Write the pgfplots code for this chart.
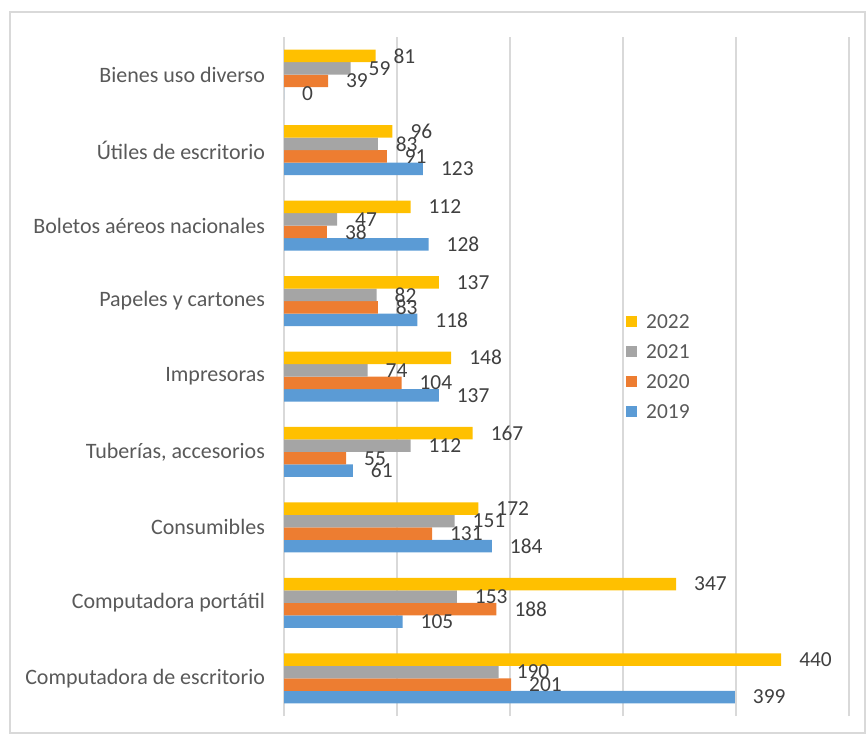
\documentclass[border=0pt]{standalone}
\usepackage{pgfplots}
\pgfplotsset{compat=1.18}
\usepackage{fontspec}
\setmainfont{Carlito}
\definecolor{cBlue}{HTML}{5B9BD5}
\definecolor{cOrange}{HTML}{ED7D31}
\definecolor{cGray}{HTML}{A5A5A5}
\definecolor{cYellow}{HTML}{FFC000}
\definecolor{cGrid}{HTML}{D9D9D9}
\definecolor{cTick}{HTML}{595959}
\definecolor{cLab}{HTML}{404040}
\begin{document}
\begin{tikzpicture}
\path[use as bounding box] (0,0) rectangle (433.5pt,368pt);
\draw[cGrid, line width=0.6pt] (5pt,1.5pt) rectangle (432.5pt,362pt);
\begin{axis}[
  at={(142pt,10pt)}, anchor=south west,
  scale only axis, width=282.5pt, height=339.5pt,
  xbar=0pt, bar width=6.25pt,
  xmin=0, xmax=500, ymin=-0.5, ymax=8.5,
  xtick={0,100,200,300,400,500}, xticklabels={},
  xmajorgrids, major grid style={cGrid, line width=0.6pt},
  axis line style={draw=none},
  major tick length=0pt,
  ytick={0,...,8},
  yticklabels={Computadora de escritorio, Computadora portátil, Consumibles, {Tuberías, accesorios}, Impresoras, Papeles y cartones, Boletos aéreos nacionales, Útiles de escritorio, Bienes uso diverso},
  yticklabel style={font=\fontsize{11}{12}\selectfont, color=cTick, xshift=-6pt},
  /pgf/number format/assume math mode=true,
  nodes near coords,
  nodes near coords style={font=\fontsize{10.7}{12}\selectfont, color=cLab, anchor=west, xshift=5.5pt},
  reverse legend,
  legend image code/.code={\fill[#1] (0pt,-2.75pt) rectangle (5.5pt,2.75pt);},
  legend cell align=left,
  legend style={at={(rel axis cs:0.605,0.592)}, anchor=north west, draw=none, fill=none,
    font=\fontsize{10.7}{12}\selectfont, text=cTick, row sep=8pt, column sep=4.5pt,
    inner sep=0pt,
    nodes={inner sep=0pt, text height=7pt, text depth=0pt}},
]
\addplot[fill=cBlue, draw=none] coordinates {(399,0) (105,1) (184,2) (61,3) (137,4) (118,5) (128,6) (123,7) (0,8)};
\addplot[fill=cOrange, draw=none] coordinates {(201,0) (188,1) (131,2) (55,3) (104,4) (83,5) (38,6) (91,7) (39,8)};
\addplot[fill=cGray, draw=none] coordinates {(190,0) (153,1) (151,2) (112,3) (74,4) (82,5) (47,6) (83,7) (59,8)};
\addplot[fill=cYellow, draw=none] coordinates {(440,0) (347,1) (172,2) (167,3) (148,4) (137,5) (112,6) (96,7) (81,8)};
\legend{2019,2020,2021,2022}
\end{axis}
\end{tikzpicture}
\end{document}
